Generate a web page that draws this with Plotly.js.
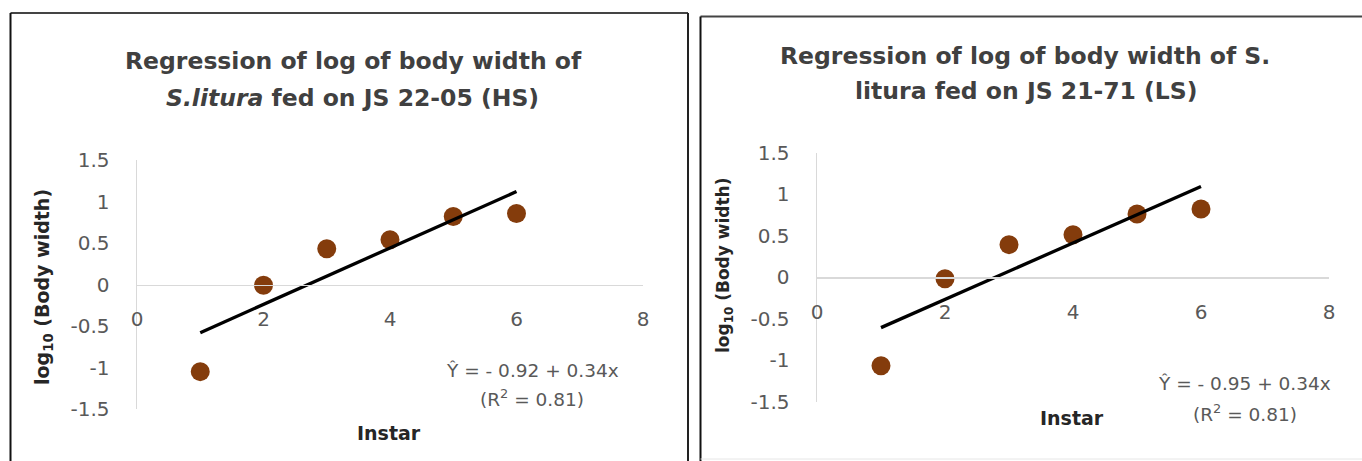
<!DOCTYPE html>
<html>
<head>
<meta charset="utf-8">
<script src="https://cdn.plot.ly/plotly-3.0.1.min.js"></script>
<style>html,body{margin:0;padding:0;background:#fff;}#chart{width:1362px;height:461px;}</style>
</head>
<body>
<div id="chart"></div>
<script>
// ---- data ----
const instar = [1, 2, 3, 4, 5, 6];
const logWidthHS = [-1.05, -0.01, 0.43, 0.54, 0.82, 0.855];
const logWidthLS = [-1.07, -0.02, 0.39, 0.51, 0.76, 0.82];
const fitX = [1, 6];
const fitHS = [-0.58, 1.12];
const fitLS = [-0.61, 1.09];
const xTicks = [0, 2, 4, 6, 8];
const yTicks = [-1.5, -1, -0.5, 0, 0.5, 1, 1.5];
const yTickText = ['-1.5', '-1', '-0.5', '0', '0.5', '1', '1.5'];
const titleHS = ['Regression of log of body width of', '<i>S.litura</i> fed on JS 22-05 (HS)'];
const titleLS = ['Regression of log of body width of S.', 'litura fed on JS 21-71 (LS)'];
const eqHS = ['Ŷ = - 0.92 + 0.34x', '(R<sup>2</sup> = 0.81)'];
const eqLS = ['Ŷ = - 0.95 + 0.34x', '(R<sup>2</sup> = 0.81)'];
const xTitle = 'Instar';
const yTitle = 'log<sub>10</sub> (Body width)';

const W = 1362, H = 461;
const px = v => v / W;
const py = v => 1 - v / H;
const FONT = '"DejaVu Sans", Lato, sans-serif';
const markerColor = '#843C0C';

const traces = [
  {x: instar, y: logWidthHS, type: 'scatter', mode: 'markers', xaxis: 'x', yaxis: 'y',
   marker: {color: markerColor, size: 19}, showlegend: false},
  {x: fitX, y: fitHS, type: 'scatter', mode: 'lines', xaxis: 'x', yaxis: 'y',
   line: {color: '#000', width: 3.3}, showlegend: false},
  {x: instar, y: logWidthLS, type: 'scatter', mode: 'markers', xaxis: 'x2', yaxis: 'y2',
   marker: {color: markerColor, size: 19}, showlegend: false},
  {x: fitX, y: fitLS, type: 'scatter', mode: 'lines', xaxis: 'x2', yaxis: 'y2',
   line: {color: '#000', width: 3.3}, showlegend: false}
];

const yDomL = [py(409), py(160)];
const yDomR = [py(401.5), py(152.5)];

function xAxis(dom, pos) {
  return {
    domain: dom, range: [0, 8], anchor: 'free', position: pos,
    tickvals: xTicks, ticktext: xTicks.map(String), ticks: '',
    showgrid: false, zeroline: false, showline: true, linecolor: '#d9d9d9', linewidth: 1.5,
    tickfont: {family: FONT, size: 20, color: '#595959'}, ticklabelstandoff: 16,
    fixedrange: true
  };
}
function yAxis(dom, anchor) {
  return {
    domain: dom, range: [-1.5, 1.5], anchor: anchor,
    tickvals: yTicks, ticktext: yTickText, ticks: '',
    showgrid: false, zeroline: false, showline: true, linecolor: '#d9d9d9', linewidth: 1.5,
    tickfont: {family: FONT, size: 20, color: '#595959'}, ticklabelstandoff: 22,
    fixedrange: true
  };
}

const xL = xAxis([px(137), px(643)], (yDomL[0] + yDomL[1]) / 2);
const xR = xAxis([px(817), px(1329)], (yDomR[0] + yDomR[1]) / 2);

function txt(text, x, y, size, color, bold, angle) {
  return {text: text, xref: 'paper', yref: 'paper', x: px(x), y: py(y), xanchor: 'center', yanchor: 'middle',
          textangle: angle || 0,
          showarrow: false, font: {family: FONT, size: size, color: color, weight: bold ? 'bold' : 'normal'}};
}

const annotations = [
  txt(titleHS[0], 353, 61, 23.5, '#404040', true),
  txt(titleHS[1], 352, 98, 23.5, '#404040', true),
  txt(titleLS[0], 1025, 56, 23.5, '#404040', true),
  txt(titleLS[1], 1026, 91, 23.5, '#404040', true),
  txt(eqHS[0], 532, 370, 18.5, '#595959', false),
  txt(eqHS[1], 532, 398, 18.5, '#595959', false),
  txt(eqLS[0], 1244, 383, 18.5, '#595959', false),
  txt(eqLS[1], 1245, 413, 18.5, '#595959', false),
  txt(xTitle, 389, 433, 19, '#262626', true),
  txt(xTitle, 1072, 418, 19, '#262626', true),
  txt(yTitle, 43, 287, 19, '#262626', true, -90),
  txt(yTitle, 724, 266, 17, '#262626', true, -90)
];

const shapes = [
  // left panel frame
  {type: 'line', xref: 'paper', yref: 'paper', x0: px(10.5), x1: px(688), y0: py(13), y1: py(13), line: {color: '#444', width: 2}},
  {type: 'line', xref: 'paper', yref: 'paper', x0: px(10.5), x1: px(10.5), y0: py(13), y1: py(470), line: {color: '#111', width: 2}},
  {type: 'line', xref: 'paper', yref: 'paper', x0: px(688), x1: px(688), y0: py(13), y1: py(470), line: {color: '#222', width: 2}},
  // right panel frame
  {type: 'line', xref: 'paper', yref: 'paper', x0: px(700.5), x1: px(1370), y0: py(16.5), y1: py(16.5), line: {color: '#444', width: 2}},
  {type: 'line', xref: 'paper', yref: 'paper', x0: px(700.5), x1: px(700.5), y0: py(16.5), y1: py(470), line: {color: '#111', width: 2}},
  {type: 'line', xref: 'paper', yref: 'paper', x0: px(700.5), x1: px(1370), y0: py(459), y1: py(459), line: {color: '#e6e6e6', width: 1}}
];

const layout = {
  width: W, height: H,
  margin: {l: 0, r: 0, t: 0, b: 0},
  paper_bgcolor: '#fff', plot_bgcolor: 'rgba(0,0,0,0)',
  showlegend: false,
  font: {family: FONT},
  xaxis: xL,
  yaxis: yAxis(yDomL, 'x'),
  xaxis2: xR,
  yaxis2: yAxis(yDomR, 'x2'),
  annotations: annotations,
  shapes: shapes
};

Plotly.newPlot('chart', traces, layout, {displayModeBar: false, staticPlot: true});
</script>
</body>
</html>
